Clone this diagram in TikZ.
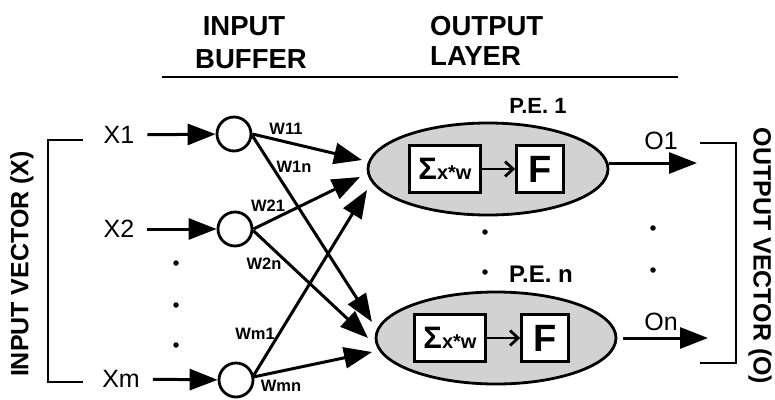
\documentclass[tikz,border=0pt]{standalone}
\usepackage{fontspec}
\setmainfont{Liberation Sans}
\usetikzlibrary{arrows.meta,shapes.geometric}
\begin{document}
\begin{tikzpicture}[x=1pt,y=-1pt,
  every node/.style={inner sep=0pt},
  ttl/.style={font=\fontsize{27.5}{27.5}\selectfont\bfseries},
  vlab/.style={font=\fontsize{25}{25}\selectfont\bfseries},
  xlab/.style={font=\fontsize{25}{25}\selectfont, inner sep=3pt},
  wlab/.style={font=\fontsize{16.5}{16.5}\selectfont\bfseries},
  pelab/.style={font=\fontsize{22}{22}\selectfont\bfseries},
  neuron/.style={circle, draw, line width=2.8pt, minimum size=34pt, fill=white},
  pe/.style={ellipse, draw, line width=2.8pt, fill=gray!35, minimum width=240pt, minimum height=92pt},
  sumbox/.style={draw, line width=2.8pt, fill=white, minimum width=71pt, minimum height=47pt},
  fbox/.style={draw, line width=2.8pt, fill=white, minimum width=47pt, minimum height=47pt, font=\fontsize{38}{38}\selectfont\bfseries},
  arr/.style={line width=3pt, -{Triangle[length=28pt,width=21pt]}},
  inarr/.style={line width=2.8pt, -{Straight Barb[length=8pt,width=15pt,line width=2.8pt]}},
  dot/.style={circle, fill, inner sep=0pt, minimum size=5.5pt},
  brk/.style={line width=2.6pt},
]
\useasboundingbox (0,0) rectangle (775,399);

% titles
\node[ttl, anchor=base] (tin) at (244,35) {INPUT};
\node[ttl, anchor=base] (tbuf) at (251,68) {BUFFER};
\node[ttl, anchor=base west] (tout) at (430,35) {OUTPUT};
\node[ttl, anchor=base west] (tlay) at (430,65) {LAYER};
\coordinate (ul1) at (162,77);
\coordinate (ul2) at (678,77);
\draw[line width=2.4pt] (ul1) -- (ul2);

% side labels and brackets
\node[vlab, rotate=90] (ivec) at (22,264) {INPUT VECTOR (X)};
\node[vlab, rotate=-90] (ovec) at (760,256) {OUTPUT VECTOR (O)};
\coordinate (lb1) at (83,140);
\coordinate (lb2) at (48,140);
\coordinate (lb3) at (48,382);
\coordinate (lb4) at (83,382);
\draw[brk] (lb1) -- (lb2) -- (lb3) -- (lb4);
\coordinate (rb1) at (700,143);
\coordinate (rb2) at (736,143);
\coordinate (rb3) at (736,363);
\coordinate (rb4) at (700,363);
\draw[brk] (rb1) -- (rb2) -- (rb3) -- (rb4);

% processing elements
\node[pe] (e1) at (488,169) {};
\node[pe] (en) at (496,338) {};
\node[sumbox] (s1) at (445,169) {{\fontsize{31}{31}\selectfont\bfseries Σ}{\fontsize{20}{20}\selectfont\bfseries x*w}};
\node[fbox] (f1) at (540,169) {F};
\node[sumbox] (sn) at (450,338) {{\fontsize{31}{31}\selectfont\bfseries Σ}{\fontsize{20}{20}\selectfont\bfseries x*w}};
\node[fbox] (fn) at (545,338) {F};
\draw[inarr] (s1) -- (f1);
\draw[inarr] (sn) -- (fn);
\node[pelab, anchor=base] (pe1) at (538,113) {P.E. 1};
\node[font=\fontsize{24}{24}\selectfont\bfseries, anchor=base] (pen) at (541,282) {P.E. n};

% inputs
\node[xlab] (x1) at (119,135) {X1};
\node[xlab] (x2) at (119,229) {X2};
\node[xlab] (xm) at (121,379) {Xm};
\node[neuron] (c1) at (234,134) {};
\node[neuron] (c2) at (235,229) {};
\node[neuron] (cm) at (236,380) {};
\draw[arr, shorten <=10pt] (x1) -- (c1);
\draw[arr, shorten <=10pt] (x2) -- (c2);
\draw[arr, shorten <=10pt] (xm) -- (cm);

\node[dot] (d1) at (176,263) {};
\node[dot] (d2) at (176,305) {};
\node[dot] (d3) at (176,345) {};

% weighted connections
\coordinate (t11) at (362,160);
\coordinate (t21) at (360,177);
\coordinate (tm1) at (367,190);
\coordinate (t1n) at (372,322);
\coordinate (t2n) at (368,338);
\coordinate (tmn) at (372,352);
\draw[arr] (c1.east) -- (t11);
\draw[arr] (c1.-5) -- (t1n);
\draw[arr] (c2.east) -- (t21);
\draw[arr] (c2.-5) -- (t2n);
\draw[arr] (cm.15) -- (tm1);
\draw[arr] (cm.10) -- (tmn);

\node[wlab] (w11) at (286,129) {W11};
\node[wlab] (w1n) at (294,167) {W1n};
\node[wlab] (w21) at (268,206) {W21};
\node[wlab] (w2n) at (264,264) {W2n};
\node[wlab] (wm1) at (255,334) {Wm1};
\node[wlab] (wmn) at (281,386) {Wmn};

% outputs
\coordinate (o1t) at (697,163);
\coordinate (ont) at (708,338);
\draw[arr] ([yshift=6pt]e1.east) -- (o1t);
\draw[arr, shorten <=6pt] (en.east) -- (ont);
\node[xlab] (o1) at (661,141) {O1};
\node[xlab] (on) at (661,322) {On};

\node[dot] (d4) at (485,232) {};
\node[dot] (d5) at (485,272) {};
\node[dot] (d6) at (653,228) {};
\node[dot] (d7) at (653,270) {};
\end{tikzpicture}
\end{document}
